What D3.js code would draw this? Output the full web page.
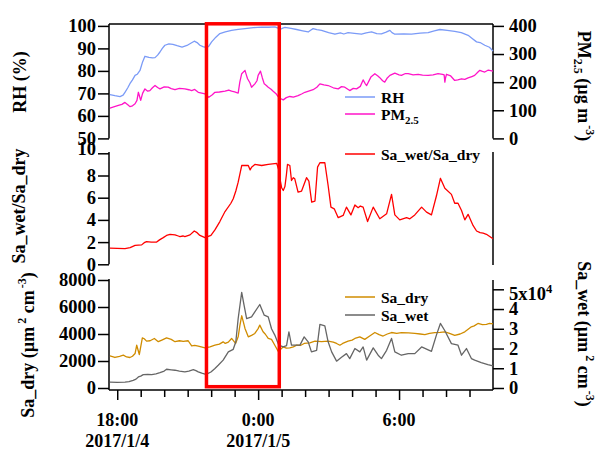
<!DOCTYPE html>
<html>
<head>
<meta charset="utf-8">
<script src="https://cdn.jsdelivr.net/npm/d3@7"></script>
<style>
  body { margin: 0; background: #fff; }
  svg text { font-family: "Liberation Serif", "Times New Roman", serif; font-weight: bold; fill: #000; }
</style>
</head>
<body>
<svg id="chart" width="601" height="451"></svg>
<script>
// Time is given in hours after 2017-01-04 00:00 (local).
const rhSeries = [[17.69,69.5],[17.9,69.0],[18.12,68.6],[18.25,69.2],[18.33,70.5],[18.45,72.5],[18.54,74.3],[18.65,76.0],[18.76,78.0],[18.85,78.5],[18.97,80.2],[19.08,84.0],[19.18,86.5],[19.35,86.0],[19.5,85.8],[19.61,85.9],[19.72,87.0],[19.82,88.4],[19.92,90.0],[20.03,91.4],[20.2,92.0],[20.37,91.8],[20.55,91.2],[20.76,90.6],[20.97,91.3],[21.15,92.4],[21.28,93.2],[21.4,92.6],[21.52,91.4],[21.65,90.8],[21.81,90.3],[21.9,91.0],[22.02,92.9],[22.2,95.0],[22.37,96.6],[22.6,97.3],[22.87,98.0],[23.15,98.5],[23.44,98.8],[23.8,99.2],[24.15,99.5],[24.45,99.4],[24.71,99.6],[24.85,99.0],[24.93,98.4],[25.05,99.0],[25.14,99.3],[25.4,98.9],[25.64,98.4],[25.9,97.8],[26.13,97.3],[26.25,98.2],[26.34,98.8],[26.5,98.3],[26.7,98.0],[27.0,97.0],[27.27,96.3],[27.5,96.9],[27.65,96.4],[27.83,97.0],[28.1,96.7],[28.4,96.3],[28.6,96.9],[28.83,97.3],[29.05,96.6],[29.25,96.5],[29.45,97.2],[29.61,98.0],[29.7,97.0],[29.82,96.3],[30.2,96.5],[30.53,96.3],[30.9,96.8],[31.24,97.0],[31.5,97.8],[31.74,98.4],[32.05,98.0],[32.37,97.6],[32.65,97.0],[32.94,95.8],[33.1,94.5],[33.3,92.9],[33.45,92.6],[33.65,91.4],[33.85,90.5],[34.0,88.8]];

const pmSeries = [[17.69,108],[17.85,112],[18.05,117],[18.2,121],[18.33,128],[18.45,120],[18.54,113],[18.65,116],[18.76,123],[18.84,135],[18.9,164],[18.95,150],[19.0,135],[19.08,160],[19.18,176],[19.3,168],[19.39,170],[19.5,180],[19.61,188],[19.72,181],[19.82,176],[20.0,183],[20.17,182],[20.3,177],[20.46,173],[20.65,178],[20.88,176],[21.05,173],[21.17,170],[21.3,174],[21.45,164],[21.6,161],[21.74,158],[21.9,146],[22.05,155],[22.16,164],[22.35,165],[22.59,168],[22.75,172],[22.87,168],[23.0,165],[23.15,161],[23.22,200],[23.3,230],[23.44,242],[23.5,225],[23.55,212],[23.65,198],[23.72,182],[23.86,194],[23.95,205],[24.0,224],[24.1,239],[24.18,215],[24.26,194],[24.35,188],[24.43,182],[24.55,175],[24.64,168],[24.75,160],[24.85,149],[24.95,142],[25.07,137],[25.2,145],[25.35,149],[25.5,147],[25.7,152],[25.85,158],[25.99,164],[26.15,168],[26.34,173],[26.5,182],[26.63,194],[26.8,190],[26.98,188],[27.2,180],[27.41,176],[27.55,184],[27.69,182],[27.9,170],[28.05,178],[28.19,176],[28.35,185],[28.47,208],[28.55,196],[28.62,188],[28.8,218],[28.97,230],[29.1,222],[29.18,216],[29.3,205],[29.39,200],[29.5,215],[29.61,224],[29.82,232],[30.0,226],[30.1,224],[30.25,230],[30.39,230],[30.6,226],[30.81,228],[31.0,225],[31.24,224],[31.45,226],[31.66,230],[31.85,228],[31.92,226],[31.95,200],[31.98,215],[32.02,228],[32.2,222],[32.37,206],[32.5,208],[32.66,212],[32.8,210],[32.94,215],[33.1,220],[33.22,224],[33.35,235],[33.44,242],[33.55,238],[33.65,236],[33.8,243],[34.0,239]];

const ratioSeries = [[17.69,1.45],[18.0,1.43],[18.33,1.42],[18.55,1.5],[18.76,1.7],[19.04,1.75],[19.15,1.95],[19.25,2.05],[19.45,2.0],[19.68,2.0],[19.8,2.2],[19.96,2.4],[20.1,2.6],[20.25,2.7],[20.46,2.65],[20.6,2.55],[20.67,2.5],[20.8,2.55],[20.88,2.5],[21.1,2.65],[21.28,3.0],[21.4,2.85],[21.52,2.6],[21.74,2.4],[21.99,2.6],[22.16,3.1],[22.37,3.85],[22.59,4.75],[22.84,5.5],[22.94,5.9],[23.05,6.6],[23.15,7.4],[23.3,8.9],[23.58,8.9],[23.66,8.5],[23.72,8.75],[23.86,9.0],[24.15,8.9],[24.43,9.0],[24.79,9.1],[24.88,8.5],[24.93,7.7],[25.0,6.9],[25.07,6.65],[25.14,7.0],[25.2,8.0],[25.25,9.0],[25.35,8.9],[25.42,7.55],[25.5,7.8],[25.56,7.7],[25.7,6.5],[25.85,6.6],[26.06,7.8],[26.16,7.5],[26.28,5.6],[26.42,5.7],[26.53,8.75],[26.63,9.15],[26.84,9.15],[26.98,7.1],[27.1,5.15],[27.24,5.0],[27.41,4.2],[27.62,4.4],[27.76,5.15],[27.95,4.45],[28.12,5.35],[28.26,5.1],[28.35,5.25],[28.47,5.15],[28.66,3.85],[28.9,5.15],[29.18,4.1],[29.47,4.55],[29.68,6.3],[29.82,4.45],[30.03,4.0],[30.32,4.2],[30.46,4.1],[30.67,4.45],[30.96,5.15],[31.17,4.7],[31.38,4.45],[31.59,6.15],[31.76,7.75],[31.95,6.85],[32.23,6.3],[32.37,5.5],[32.51,5.5],[32.66,4.85],[32.8,4.0],[32.94,4.5],[33.15,3.5],[33.3,3.0],[33.45,2.85],[33.58,2.8],[33.72,2.7],[34.0,2.3]];

const saDrySeries = [[17.69,2380],[17.9,2260],[18.1,2350],[18.26,2430],[18.4,2300],[18.54,2260],[18.65,2350],[18.76,2555],[18.83,3170],[18.94,2480],[19.07,3715],[19.15,3650],[19.25,3470],[19.4,3500],[19.58,3670],[19.75,3430],[19.9,3550],[20.1,3715],[20.3,3600],[20.46,3430],[20.65,3500],[20.81,3450],[21.02,3500],[21.17,3120],[21.3,3150],[21.45,3100],[21.74,2970],[21.95,3050],[22.16,3170],[22.35,3250],[22.51,3420],[22.6,3300],[22.73,3400],[22.87,3670],[23.04,3300],[23.15,3790],[23.22,4600],[23.3,5350],[23.37,4900],[23.44,4410],[23.58,3790],[23.72,3900],[23.86,4040],[24.0,4400],[24.07,4660],[24.21,4170],[24.3,4000],[24.43,3670],[24.57,3600],[24.71,3170],[24.85,2730],[24.95,2850],[25.07,3050],[25.2,2950],[25.35,2970],[25.5,3050],[25.64,3170],[25.8,3150],[25.96,3300],[26.2,3350],[26.42,3470],[26.7,3430],[26.98,3470],[27.2,3400],[27.34,3300],[27.48,3170],[27.6,3300],[27.83,3470],[28.0,3550],[28.12,3670],[28.33,3790],[28.54,3600],[28.75,3850],[28.97,4110],[29.15,3950],[29.32,3850],[29.5,4000],[29.68,4110],[29.9,4050],[30.1,4100],[30.4,4080],[30.67,4040],[30.9,4000],[31.1,3960],[31.3,4050],[31.52,4100],[31.75,4120],[31.95,4160],[32.15,4050],[32.37,3900],[32.6,4000],[32.8,4160],[33.08,4530],[33.2,4600],[33.36,4780],[33.55,4700],[33.72,4720],[33.85,4780],[34.0,4750]];

const saWetSeries = [[17.69,3000],[18.0,2900],[18.33,3000],[18.5,3200],[18.68,3900],[18.8,4500],[18.9,5600],[19.0,6000],[19.11,6800],[19.3,6900],[19.47,6800],[19.65,7200],[19.82,7800],[20.0,8600],[20.1,9500],[20.3,9200],[20.46,9000],[20.65,8600],[20.88,8200],[21.05,8600],[21.24,9300],[21.35,8800],[21.45,8200],[21.6,7500],[21.74,7000],[21.85,7300],[21.99,8100],[22.15,9800],[22.3,11500],[22.51,14100],[22.73,18300],[22.94,19600],[23.05,23400],[23.15,35200],[23.3,48400],[23.4,42000],[23.51,35200],[23.72,36000],[23.86,38600],[24.07,42300],[24.26,36900],[24.43,36000],[24.57,30000],[24.71,26800],[24.88,21700],[25.07,20800],[25.21,21500],[25.31,28400],[25.42,21700],[25.64,21700],[25.78,21700],[25.96,25900],[26.13,23400],[26.27,18300],[26.49,19100],[26.63,32200],[26.84,31500],[26.98,23400],[27.13,18300],[27.34,13600],[27.55,15600],[27.76,17400],[27.9,14900],[28.12,20000],[28.33,18300],[28.47,20800],[28.62,14100],[28.9,20300],[29.11,16600],[29.25,14900],[29.47,19100],[29.68,25100],[29.82,18300],[30.1,16600],[30.39,17400],[30.67,17400],[30.96,20800],[31.38,18600],[31.59,26800],[31.76,32700],[31.95,29000],[32.23,22500],[32.51,21700],[32.66,16600],[32.87,20000],[33.08,14900],[33.22,14100],[33.5,12900],[33.78,11900],[34.0,11200]];

// Axis tick values
const rhTicks = [50, 60, 70, 80, 90, 100];
const pmTicks = [0, 100, 200, 300, 400];
const ratioTicks = [0, 2, 4, 6, 8, 10];
const saDryTicks = [0, 2000, 4000, 6000, 8000];
const saWetTicks = [0, 10000, 20000, 30000, 40000, 50000];
const majorHours = [18, 24, 30];
const timeLabels = ["18:00", "0:00", "6:00"];
const dateLabels = ["2017/1/4", "2017/1/5", ""];
const timeRange = [17.65, 34.0];
const highlightWindow = [21.8, 24.9];

const colors = { rh: "#7b9bf7", pm: "#ff14c8", ratio: "#ff0000", dry: "#d08c00", wet: "#666666" };

const svg = d3.select("#chart");
const xL = 109, xR = 493;
const base = new Date(2017, 0, 4);
const at = h => new Date(base.getTime() + h * 3600000);
const x = d3.scaleTime().domain(timeRange.map(at)).range([xL, xR]);

// Panel scales
const yRH = d3.scaleLinear().domain([50, 100]).range([138.4, 25.9]);
const yPM = d3.scaleLinear().domain([0, 400]).range([138.4, 25.9]);
const yRatio = d3.scaleLinear().domain([0, 10]).range([264.3, 153.3]);
const yDry = d3.scaleLinear().domain([0, 8000]).range([388, 280]);
const yWet = d3.scaleLinear().domain([0, 50000]).range([388, 289.3]);

const TICK_FS = 18.5;
const intFmt = d3.format("d");

function styleAxis(g) {
  g.select(".domain").remove();
  g.selectAll(".tick line").attr("stroke", "#000").attr("stroke-width", 1.5);
  g.selectAll(".tick text").attr("font-size", TICK_FS).attr("fill", "#000")
    .attr("font-family", '"Liberation Serif","Times New Roman",serif').attr("font-weight", "bold");
}
function vline(xp, y0, y1) {
  svg.append("line").attr("x1", xp).attr("x2", xp).attr("y1", y0).attr("y2", y1)
    .attr("stroke", "#000").attr("stroke-width", 1.5);
}
function hline(yp, x0, x1) {
  svg.append("line").attr("x1", x0).attr("x2", x1).attr("y1", yp).attr("y2", yp)
    .attr("stroke", "#000").attr("stroke-width", 1.5);
}
function drawLine(data, y, color, w) {
  svg.append("path").datum(data)
    .attr("fill", "none").attr("stroke", color).attr("stroke-width", w || 1.3)
    .attr("stroke-linejoin", "round")
    .attr("d", d3.line().x(d => x(at(d[0]))).y(d => y(d[1])));
}

// ---- Top panel: RH and PM2.5
const gRH = svg.append("g").attr("transform", `translate(${xL},0)`)
  .call(d3.axisLeft(yRH).tickValues(rhTicks).tickFormat(intFmt).tickSize(11).tickPadding(2).tickSizeOuter(0));
styleAxis(gRH);
const gPM = svg.append("g").attr("transform", `translate(${xR},0)`)
  .call(d3.axisRight(yPM).tickValues(pmTicks).tickFormat(intFmt).tickSize(11).tickPadding(5).tickSizeOuter(0));
styleAxis(gPM);
vline(xL, 24, 138.4);
vline(xR, 24, 138.4);
hline(24, xL, xR);
drawLine(rhSeries, yRH, colors.rh);
drawLine(pmSeries, yPM, colors.pm);

// ---- Middle panel: Sa_wet/Sa_dry
const gRatio = svg.append("g").attr("transform", `translate(${xL},0)`)
  .call(d3.axisLeft(yRatio).tickValues(ratioTicks).tickFormat(intFmt).tickSize(11).tickPadding(2).tickSizeOuter(0));
styleAxis(gRatio);
gRatio.selectAll(".tick").filter(d => d === 10).select("text").attr("dy", "0.05em");
vline(xL, 152, 264.3);
vline(xR, 152, 265);
drawLine(ratioSeries, yRatio, colors.ratio);

// ---- Bottom panel: Sa_dry (left) and Sa_wet (right)
const gDry = svg.append("g").attr("transform", `translate(${xL},0)`)
  .call(d3.axisLeft(yDry).tickValues(saDryTicks).tickFormat(intFmt).tickSize(11).tickPadding(2).tickSizeOuter(0));
styleAxis(gDry);
const gWet = svg.append("g").attr("transform", `translate(${xR},0)`)
  .call(d3.axisRight(yWet).tickValues(saWetTicks).tickSize(11).tickPadding(5).tickSizeOuter(0)
    .tickFormat(d => d === 50000 ? "" : String(d / 10000)));
styleAxis(gWet);
gWet.selectAll(".tick").filter(d => d === 50000).select("text")
  .attr("dy", "0.55em")
  .call(t => {
    t.append("tspan").text("5x10");
    t.append("tspan").attr("dy", "-0.55em").attr("font-size", 12.5).text("4");
  });
vline(xL, 279, 390);
vline(xR, 280, 390);
drawLine(saDrySeries, yDry, colors.dry);
drawLine(saWetSeries, yWet, colors.wet);

// ---- Time axis
const hourTicks = d3.range(18, 34).map(at);
const gX = svg.append("g").attr("transform", "translate(0,390)")
  .call(d3.axisBottom(x).tickValues(hourTicks).tickSize(7).tickFormat("").tickSizeOuter(0));
styleAxis(gX);
gX.selectAll(".tick").filter(d => majorHours.includes(d.getHours() + (d.getDate() - 4) * 24))
  .select("line").attr("y2", 10);
hline(390, xL, xR);
majorHours.forEach((h, i) => {
  svg.append("text").attr("x", x(at(h))).attr("y", 426).attr("text-anchor", "middle")
    .attr("font-size", 18).text(timeLabels[i]);
  if (dateLabels[i]) {
    svg.append("text").attr("x", x(at(h))).attr("y", 447).attr("text-anchor", "middle")
      .attr("font-size", 18).text(dateLabels[i]);
  }
});

// ---- Highlighted period
svg.append("rect")
  .attr("x", x(at(highlightWindow[0])))
  .attr("y", 23.8)
  .attr("width", x(at(highlightWindow[1])) - x(at(highlightWindow[0])))
  .attr("height", 386.7 - 23.8)
  .attr("fill", "none").attr("stroke", "#ff0000").attr("stroke-width", 3.5);

// ---- Legends
function legendRow(yp, color, build) {
  svg.append("line").attr("x1", 345).attr("x2", 375).attr("y1", yp).attr("y2", yp)
    .attr("stroke", color).attr("stroke-width", 1.5);
  const t = svg.append("text").attr("x", 381).attr("y", yp + 5.5).attr("font-size", 15.5);
  build(t);
}
legendRow(97, colors.rh, t => t.text("RH"));
legendRow(114, colors.pm, t => {
  t.append("tspan").text("PM");
  t.append("tspan").attr("font-size", 11).attr("dy", 4).text("2.5");
});
legendRow(154, colors.ratio, t => t.text("Sa_wet/Sa_dry"));
legendRow(297, colors.dry, t => t.text("Sa_dry"));
legendRow(315, colors.wet, t => t.text("Sa_wet"));

// ---- Axis titles
function title(xp, yp, angle, build) {
  const t = svg.append("text").attr("text-anchor", "middle").attr("font-size", 18)
    .attr("transform", `translate(${xp},${yp}) rotate(${angle})`);
  build(t);
}
function unitArea(t) {
  t.append("tspan").text(" (µm");
  t.append("tspan").attr("font-size", 12).attr("dy", -8).attr("dx", 3).text("2");
  t.append("tspan").attr("dy", 8).text(" cm");
  t.append("tspan").attr("font-size", 12).attr("dy", -8).attr("dx", 2).text("-3");
  t.append("tspan").attr("dy", 8).text(")");
}
title(26, 82, -90, t => t.text("RH (%)"));
title(25, 206, -90, t => t.text("Sa_wet/Sa_dry"));
title(34, 345, -90, t => { t.append("tspan").text("Sa_dry"); unitArea(t); });
title(578, 86, 90, t => {
  t.append("tspan").text("PM");
  t.append("tspan").attr("font-size", 12).attr("dy", 4).text("2.5");
  t.append("tspan").attr("dy", -4).text(" (µg m");
  t.append("tspan").attr("font-size", 12).attr("dy", -8).attr("dx", 2).text("-3");
  t.append("tspan").attr("dy", 8).text(")");
});
title(578, 334, 90, t => { t.append("tspan").text("Sa_wet"); unitArea(t); });
</script>
</body>
</html>
